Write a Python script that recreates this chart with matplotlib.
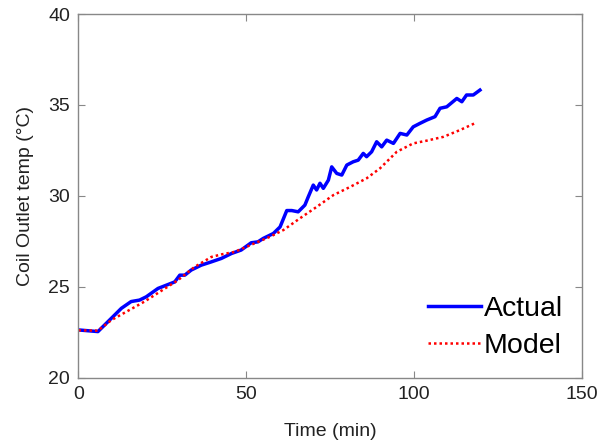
import numpy as np
import matplotlib.pyplot as plt

plt.rcParams['font.family'] = ['Liberation Sans', 'DejaVu Sans']

t_act = [0, 5.8, 9.8, 12.8, 15.7, 18.2, 20.2, 23.7, 26.2, 28.7, 30.2, 31.7, 33.6,
         36.6, 39.6, 42.6, 45.6, 48.5, 51.5, 53.5, 55.1, 58.1, 60.1, 62.1, 63.6,
         65.5, 67.5, 68.5, 70, 71, 72, 73, 74.5, 75.5, 77, 78.5, 80, 81.9, 83.4,
         84.9, 85.9, 87.4, 88.9, 90.4, 91.9, 93.9, 95.9, 97.9, 99.8, 101.8, 103.8,
         106.3, 107.8, 109.8, 112.8, 114.3, 115.7, 117.7, 119.7]
y_act = [22.64, 22.55, 23.28, 23.83, 24.2, 24.28, 24.46, 24.92, 25.1, 25.28, 25.65,
         25.65, 25.93, 26.2, 26.38, 26.57, 26.84, 27.03, 27.43, 27.48, 27.67, 27.94,
         28.3, 29.2, 29.2, 29.13, 29.5, 29.95, 30.6, 30.33, 30.7, 30.42, 30.87, 31.6,
         31.24, 31.15, 31.7, 31.88, 31.97, 32.34, 32.16, 32.43, 32.98, 32.7, 33.07,
         32.89, 33.44, 33.35, 33.8, 33.99, 34.17, 34.36, 34.82, 34.9, 35.36, 35.18,
         35.55, 35.55, 35.82]

# model prediction
t_mod = [0, 5.8, 9.8, 19.7, 29.7, 34.6, 39.6, 42.6, 46.6, 52.5, 57.1, 61.1, 66.0,
         71, 76, 81, 85.9, 89.9, 94.9, 99.8, 103.8, 108.8, 113.7, 118.7]
y_mod = [22.62, 22.6, 23.18, 24.2, 25.38, 26.1, 26.65, 26.79, 26.93, 27.4, 27.76,
         28.13, 28.77, 29.4, 30.05, 30.5, 30.97, 31.52, 32.43, 32.89, 33.04, 33.25,
         33.62, 34.04]

fig = plt.figure(figsize=(6.01, 4.46), dpi=100)
ax = fig.add_axes([0.1306, 0.1525, 0.8371, 0.8161])

ax.plot(t_act, y_act, color='#0000ff', lw=2.5, label='Actual')
ax.plot(t_mod, y_mod, color='#ff0000', lw=1.8, ls=(0, (1, 1.2)), label='Model')

ax.set_xlim(0, 150)
ax.set_ylim(20, 40)
ax.set_xticks([0, 50, 100, 150])
ax.set_yticks([20, 25, 30, 35, 40])
ax.tick_params(direction='in', length=5, width=0.8, color='#888888',
               labelsize=14, labelcolor='#222222', top=True, right=True, pad=6)
for s in ax.spines.values():
    s.set_color('#888888')
    s.set_linewidth(1.0)

ax.set_xlabel('Time (min)', fontsize=14, color='#222222', labelpad=14)
ax.set_ylabel('Coil Outlet temp (°C)', fontsize=14, color='#222222', labelpad=10)

ax.legend(loc='lower right', frameon=False, fontsize=20.5, handlelength=1.85,
          handletextpad=0.1, labelspacing=0.4, borderaxespad=0.2,
          bbox_to_anchor=(0.997, 0.005))

plt.savefig('out.png', dpi=100)
